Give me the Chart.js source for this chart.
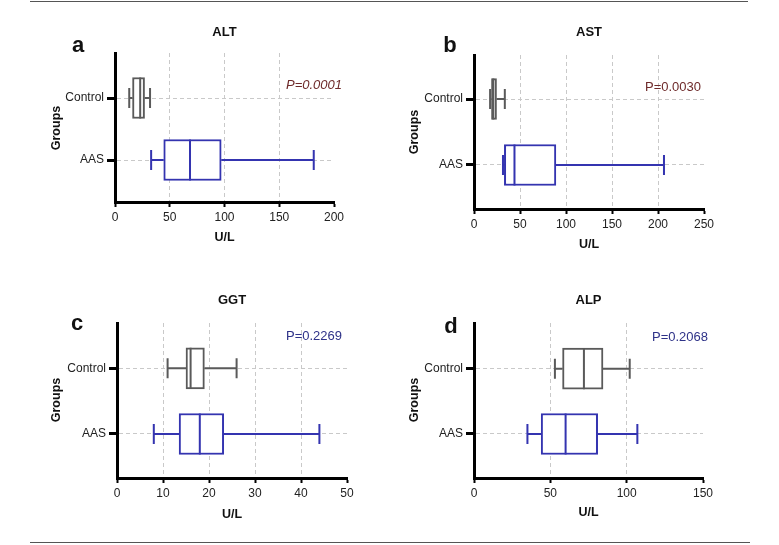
<!DOCTYPE html>
<html><head><meta charset="utf-8">
<script src="https://cdn.jsdelivr.net/npm/chart.js@4.4.1/dist/chart.umd.min.js"></script>
<style>
body{margin:0;background:#fff;width:779px;height:545px;position:relative;overflow:hidden}
canvas.c{position:absolute}
.rule{position:absolute;height:0;border-top:1.5px solid #555}
</style></head><body>
<div class="rule" style="left:30px;top:1px;width:718px"></div>
<div class="rule" style="left:30px;top:542px;width:720px"></div>
<canvas id="pa" class="c"></canvas>
<canvas id="pb" class="c"></canvas>
<canvas id="pc" class="c"></canvas>
<canvas id="pd" class="c"></canvas>
<script>
// ---- data ----
const groups = ['Control', 'AAS'];

const altMin = [13, 33],   altQ1 = [16, 44.5], altMed = [23, 68.5], altQ3 = [27, 97],   altMax = [32, 181.5];
const astMin = [17.5, 31.5], astQ1 = [19, 33], astMed = [21, 44],   astQ3 = [24.5, 89], astMax = [33.5, 206.5];
const ggtMin = [11, 8],    ggtQ1 = [15, 13.5], ggtMed = [16, 18],   ggtQ3 = [19, 23.2], ggtMax = [26, 44];
const alpMin = [53, 35],   alpQ1 = [58, 44],   alpMed = [72, 60],   alpQ3 = [84.5, 81], alpMax = [102, 107];

const altTicks = [0, 50, 100, 150, 200];
const astTicks = [0, 50, 100, 150, 200, 250];
const ggtTicks = [0, 10, 20, 30, 40, 50];
const alpTicks = [0, 50, 100, 150];

const pTexts = ['P=0.0001', 'P=0.0030', 'P=0.2269', 'P=0.2068'];
const titles = ['ALT', 'AST', 'GGT', 'ALP'];
const letters = ['a', 'b', 'c', 'd'];
const xTitle = 'U/L', yTitle = 'Groups';

// ---- styles / layout ----
const FONT = '"Liberation Sans", Arial, sans-serif';
const GRAY = '#5a5a5a', BLUE = '#3434b0';
const boxColors = [GRAY, BLUE];
const RED_P = '#6e2a2a', BLUE_P = '#2e3288';

const panels = [
  {id:'pa', cx:0,   cy:0,   cw:390, ch:272, area:[115,53,334,202], ymin:-0.677, ymax:1.726,
   d:[altMin,altQ1,altMed,altQ3,altMax], ticks:altTicks, k:0, pItalic:true, pColor:RED_P,
   tPos:[224.5,32], lPos:[78,52], pPos:[342,85], gPos:[57,128], uPos:[224.5,238]},
  {id:'pb', cx:390, cy:0,   cw:389, ch:272, area:[474,55,704,209], ymin:-0.667, ymax:1.667,
   d:[astMin,astQ1,astMed,astQ3,astMax], ticks:astTicks, k:1, pItalic:false, pColor:RED_P,
   tPos:[589,32], lPos:[450,52], pPos:[701,87], gPos:[415,132], uPos:[589,245]},
  {id:'pc', cx:0,   cy:272, cw:390, ch:273, area:[117,323,347,478], ymin:-0.67, ymax:1.69,
   d:[ggtMin,ggtQ1,ggtMed,ggtQ3,ggtMax], ticks:ggtTicks, k:2, pItalic:false, pColor:BLUE_P,
   tPos:[232,300], lPos:[77,330], pPos:[342,336], gPos:[57,400], uPos:[232,515]},
  {id:'pd', cx:390, cy:272, cw:389, ch:273, area:[474,323,703,478], ymin:-0.674, ymax:1.70,
   d:[alpMin,alpQ1,alpMed,alpQ3,alpMax], ticks:alpTicks, k:3, pItalic:false, pColor:BLUE_P,
   tPos:[588.5,300], lPos:[451,333], pPos:[708,337], gPos:[415,400], uPos:[588.5,513]}
];

Chart.defaults.font.family = FONT;
Chart.defaults.animation = false;

const pos = i => groups.length - 1 - i;

panels.forEach(P => {
  const cv = document.getElementById(P.id);
  cv.width = P.cw; cv.height = P.ch;
  cv.style.left = P.cx + 'px'; cv.style.top = P.cy + 'px';
  cv.style.width = P.cw + 'px'; cv.style.height = P.ch + 'px';
  const [L, T, R, B] = P.area;
  const [mn, q1, md, q3, mx] = P.d;
  const xmax = P.ticks[P.ticks.length - 1];
  const XH = 30;

  const boxPlugin = {
    id: 'boxp' + P.id,
    afterDatasetsDraw(chart) {
      const ctx = chart.ctx, xs = chart.scales.x, ys = chart.scales.y;
      const half = 20.5, cap = 10;
      groups.forEach((g, i) => {
        const y = ys.getPixelForValue(pos(i));
        const X = v => xs.getPixelForValue(v);
        ctx.save();
        ctx.strokeStyle = boxColors[i];
        ctx.lineWidth = 2;
        ctx.beginPath();
        ctx.moveTo(X(mn[i]), y); ctx.lineTo(X(q1[i]), y);
        ctx.moveTo(X(q3[i]), y); ctx.lineTo(X(mx[i]), y);
        ctx.moveTo(X(mn[i]), y - cap); ctx.lineTo(X(mn[i]), y + cap);
        ctx.moveTo(X(mx[i]), y - cap); ctx.lineTo(X(mx[i]), y + cap);
        ctx.moveTo(X(md[i]), y - half); ctx.lineTo(X(md[i]), y + half);
        ctx.stroke();
        ctx.restore();
      });
    },
    afterDraw(chart) {
      const ctx = chart.ctx;
      const rx = p => p[0] - P.cx, ry = p => p[1] - P.cy;
      ctx.save();
      ctx.fillStyle = '#111';
      ctx.textAlign = 'center'; ctx.textBaseline = 'middle';
      ctx.font = 'bold 13px ' + FONT;
      ctx.fillText(titles[P.k], rx(P.tPos), ry(P.tPos));
      ctx.font = 'bold 12.5px ' + FONT;
      ctx.fillText(xTitle, rx(P.uPos), ry(P.uPos));
      ctx.save();
      ctx.translate(rx(P.gPos), ry(P.gPos));
      ctx.rotate(-Math.PI / 2);
      ctx.fillText(yTitle, 0, 0);
      ctx.restore();
      ctx.textBaseline = 'alphabetic';
      ctx.font = 'bold 22px ' + FONT;
      ctx.fillText(letters[P.k], rx(P.lPos), ry(P.lPos));
      ctx.textAlign = 'right'; ctx.textBaseline = 'middle';
      ctx.fillStyle = P.pColor;
      ctx.font = (P.pItalic ? 'italic ' : '') + '13px ' + FONT;
      ctx.fillText(pTexts[P.k], rx(P.pPos), ry(P.pPos));
      ctx.restore();
    }
  };

  new Chart(cv, {
    type: 'bar',
    data: {
      datasets: [{
        data: groups.map((g, i) => ({ y: pos(i), x: [q1[i], q3[i]] })),
        backgroundColor: '#ffffff',
        borderColor: boxColors,
        borderWidth: 2,
        borderSkipped: false,
        barThickness: 41
      }]
    },
    options: {
      indexAxis: 'y',
      responsive: false,
      animation: false,
      layout: { padding: { left: 0, top: T - P.cy, right: P.cx + P.cw - R, bottom: P.cy + P.ch - B - XH } },
      plugins: { legend: { display: false }, tooltip: { enabled: false }, title: { display: false } },
      scales: {
        x: {
          type: 'linear', min: 0, max: xmax,
          afterBuildTicks: s => { s.ticks = P.ticks.map(v => ({ value: v })); },
          afterFit: s => { s.height = XH; },
          ticks: { font: { size: 12 }, color: '#222', padding: 3, maxRotation: 0 },
          grid: {
            color: c => (c.tick && (c.tick.value === 0 || c.tick.value === xmax)) ? 'rgba(0,0,0,0)' : '#c9c9c9',
            lineWidth: 1, tickColor: '#000', tickWidth: 2, tickLength: 5
          },
          border: { color: '#000', width: 3, dash: [4, 3] }
        },
        y: {
          type: 'linear', min: P.ymin, max: P.ymax, offset: false,
          afterBuildTicks: s => { s.ticks = groups.map((g, i) => ({ value: pos(i) })); },
          afterFit: s => { s.width = L - P.cx; },
          ticks: {
            callback: v => groups[groups.length - 1 - Math.round(v)],
            font: { size: 12 }, color: '#222', padding: 3
          },
          grid: { offset: false, color: '#c9c9c9', lineWidth: 1, tickColor: '#000', tickWidth: 3, tickLength: 8 },
          border: { color: '#000', width: 3, dash: [4, 3] }
        }
      }
    },
    plugins: [boxPlugin]
  });
});
</script>
</body></html>
